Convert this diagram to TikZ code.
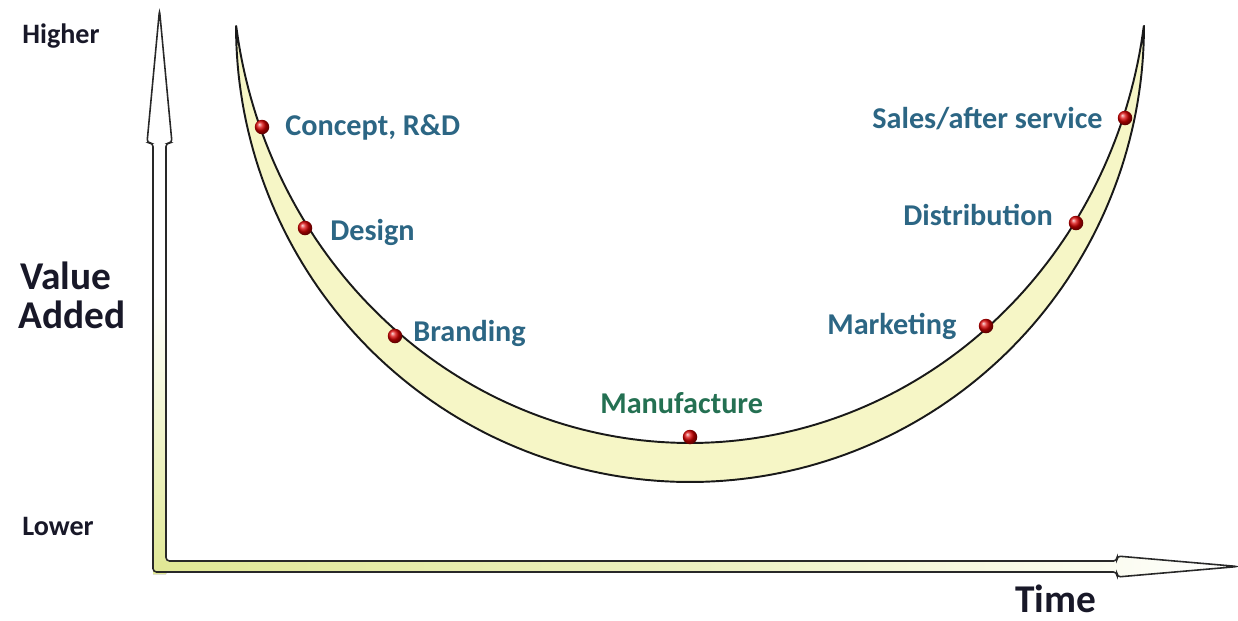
\documentclass[tikz,border=0pt]{standalone}
\usepackage{fontspec}
\setmainfont{Carlito}
\usetikzlibrary{shadings}
\definecolor{lblblue}{RGB}{44,102,132}
\definecolor{lblgreen}{RGB}{36,112,82}
\definecolor{axtext}{RGB}{24,24,40}
\definecolor{bandfill}{RGB}{246,246,198}
\definecolor{axisyellow}{RGB}{225,232,150}
\definecolor{outline}{RGB}{40,40,40}
\begin{document}
\begin{tikzpicture}[x=0.02cm,y=-0.02cm,
  lbl/.style={font=\bfseries\fontsize{17.2pt}{19pt}\selectfont, text=lblblue, inner sep=0pt, anchor=base west},
  axlbl/.style={font=\bfseries\fontsize{16pt}{18pt}\selectfont, text=axtext, inner sep=0pt, anchor=base west},
  biglbl/.style={font=\bfseries\fontsize{22.4pt}{22pt}\selectfont, text=axtext, inner sep=0pt, anchor=base west},
  dot/.style={circle, inner sep=0pt, minimum size=0.29cm, shading=ball, ball color=red!85!black},
  band/.style={fill=bandfill, draw=black!90, line width=1.1pt, line join=round},
  axisline/.style={draw=outline, line width=0.9pt, line join=miter}]
\useasboundingbox (0,0) rectangle (1238,620);

% axes fill
\fill[top color=white, bottom color=axisyellow, middle color=white, shading angle=0]
  (153,574) -- (153,143) -- (147,143) -- (159.5,10) -- (172,143) -- (166,143) -- (166,574) -- cycle;
\fill[left color=axisyellow, right color=white, middle color=white!40!axisyellow]
  (160,561) -- (1117,561) -- (1117,556) -- (1238,566.5) -- (1117,577) -- (1117,572) -- (160,572) -- cycle;
% axes outline
\draw[axisline, rounded corners=2pt]
  (153,572) -- (153,143) -- (147,143) -- (159.5,10) -- (172,143) -- (166,143) -- (166,561)
  -- (1117,561) -- (1117,556) -- (1238,566.5) -- (1117,577) -- (1117,572) -- cycle;

% smile curve band
\path[band] plot[domain=172.25:7.75, samples=150] ({690+458*cos(\x)},{-39+482*sin(\x)})
  -- plot[domain=0:180, samples=150] ({690+454*cos(\x)},{26+456*sin(\x)}) -- cycle;

% dots
\node[dot] (d1) at (262,127) {};
\node[dot] (d2) at (305,228) {};
\node[dot] (d3) at (395,336) {};
\node[dot] (d4) at (690,437) {};
\node[dot] (d5) at (986,326) {};
\node[dot] (d6) at (1076,223) {};
\node[dot] (d7) at (1125,118) {};

% labels
\node[lbl] (l1) at (285,135) {Concept, R\&D};
\node[lbl] (l2) at (330,240) {Design};
\node[lbl] (l3) at (413,341) {Branding};
\node[lbl, text=lblgreen] (l4) at (600,413) {Manufacture};
\node[lbl] (l5) at (827,334) {Marketing};
\node[lbl] (l6) at (903,225) {Distribution};
\node[lbl] (l7) at (872,128) {Sales/after service};

\node[axlbl] (hi) at (22,43) {Higher};
\node[axlbl] (lo) at (22,535) {Lower};
\node[biglbl] (va) at (20,289) {Value};
\node[biglbl] (ad) at (18,328) {Added};
\node[biglbl] (tm) at (1015,612) {Time};
\end{tikzpicture}
\end{document}
